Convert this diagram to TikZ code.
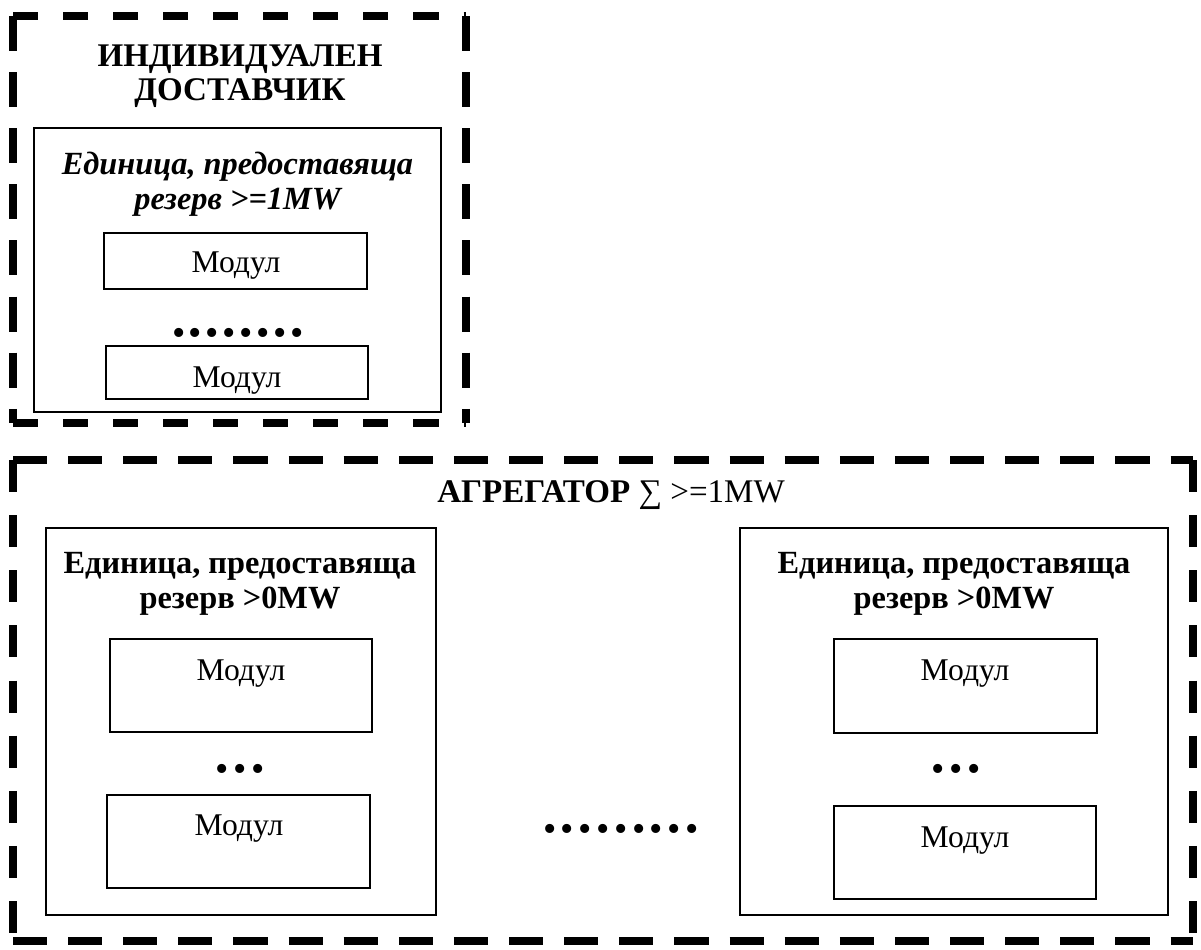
\documentclass[tikz,border=0pt]{standalone}
\usepackage{fontspec}
\setmainfont{Liberation Serif}
\usetikzlibrary{fit}
\newcommand{\dotrow}[2]{\foreach \i in {1,...,#1}{\ifnum\i>1\kern#2\fi•}}
\tikzset{
  px/.style={x=0.025cm,y=-0.025cm},
  thinbox/.style={draw, line width=0.9pt, inner sep=0pt},
  heavy/.style={line width=5.7pt},
  hdashA/.style={heavy, dash pattern=on 17.8pt off 17.8pt},
  vdashA/.style={heavy, dash pattern=on 24.9pt off 15pt},
  hdashB/.style={heavy, dash pattern=on 24.2pt off 15pt},
  vdashB/.style={heavy, dash pattern=on 22.8pt off 16.4pt},
  bigtitle/.style={font=\fontsize{23.5}{24}\selectfont\bfseries, align=center, inner sep=0pt},
  unittitle/.style={font=\fontsize{23}{25}\selectfont\bfseries, align=center, inner sep=0pt},
  modtext/.style={font=\fontsize{22.5}{22.5}\selectfont, inner sep=0pt},
  dots/.style={font=\fontsize{27}{27}\selectfont, inner sep=0pt, anchor=base},
}
\begin{document}
\begin{tikzpicture}[px]
\useasboundingbox (0,0) rectangle (1201,949);
\fill[white] (0,0) rectangle (1201,949);

% ---------- individual supplier ----------
\coordinate (a1) at (13,16);
\coordinate (a2) at (466,16);
\coordinate (a3) at (466,423);
\coordinate (a4) at (13,423);
\draw[hdashA] (a1) -- (a2);
\draw[vdashA] (a2) -- (a3);
\draw[hdashA] (a4) -- (a3);
\draw[vdashA] (a1) -- (a4);

\node[bigtitle] (indtitle) at (240,76) {ИНДИВИДУАЛЕН\\ДОСТАВЧИК};
\node[thinbox, fit={(34,128)(441,412)}] (unitA) {};
\node[unittitle, font=\fontsize{23}{25}\selectfont\bfseries\itshape] (unitAt) at (237.5,184.5) {Единица, предоставяща\\резерв >=1MW};
\node[thinbox, fit={(104,233)(367,289)}] (modA1) {};
\node[modtext] (modA1t) at (236,266) {Модул};
\node[dots] (dotsA) at (238,345) {\dotrow{8}{2.6pt}};
\node[thinbox, fit={(106,346)(368,399)}] (modA2) {};
\node[modtext] (modA2t) at (237,381) {Модул};

% ---------- aggregator ----------
\coordinate (b1) at (13,460);
\coordinate (b2) at (1193,460);
\coordinate (b3) at (1193,941);
\coordinate (b4) at (13,941);
\draw[hdashB] (b1) -- (b2);
\draw[vdashB] (b2) -- (b3);
\draw[hdashB] (b4) -- (b3);
\draw[vdashB] (b1) -- (b4);

\node[inner sep=0pt, font=\fontsize{23.5}{23.5}\selectfont] (aggtitle) at (611,495) {\textbf{АГРЕГАТОР} ∑ >=1MW};

% left unit
\node[thinbox, fit={(46,528)(436,915)}] (unitL) {};
\node[unittitle] (unitLt) at (240,584) {Единица, предоставяща\\резерв >0MW};
\node[thinbox, fit={(110,639)(372,732)}] (modL1) {};
\node[modtext] (modL1t) at (241,674) {Модул};
\node[dots] (dotsL) at (240,781) {\dotrow{3}{3.2pt}};
\node[thinbox, fit={(107,795)(370,888)}] (modL2) {};
\node[modtext] (modL2t) at (239,829) {Модул};

% middle dots
\node[dots] (dotsM) at (621,841) {\dotrow{9}{3.2pt}};

% right unit
\node[thinbox, fit={(740,528)(1168,915)}] (unitR) {};
\node[unittitle] (unitRt) at (954,584) {Единица, предоставяща\\резерв >0MW};
\node[thinbox, fit={(834,639)(1097,733)}] (modR1) {};
\node[modtext] (modR1t) at (965,674) {Модул};
\node[dots] (dotsR) at (956,781) {\dotrow{3}{3.2pt}};
\node[thinbox, fit={(834,806)(1096,899)}] (modR2) {};
\node[modtext] (modR2t) at (965,841) {Модул};
\end{tikzpicture}
\end{document}
